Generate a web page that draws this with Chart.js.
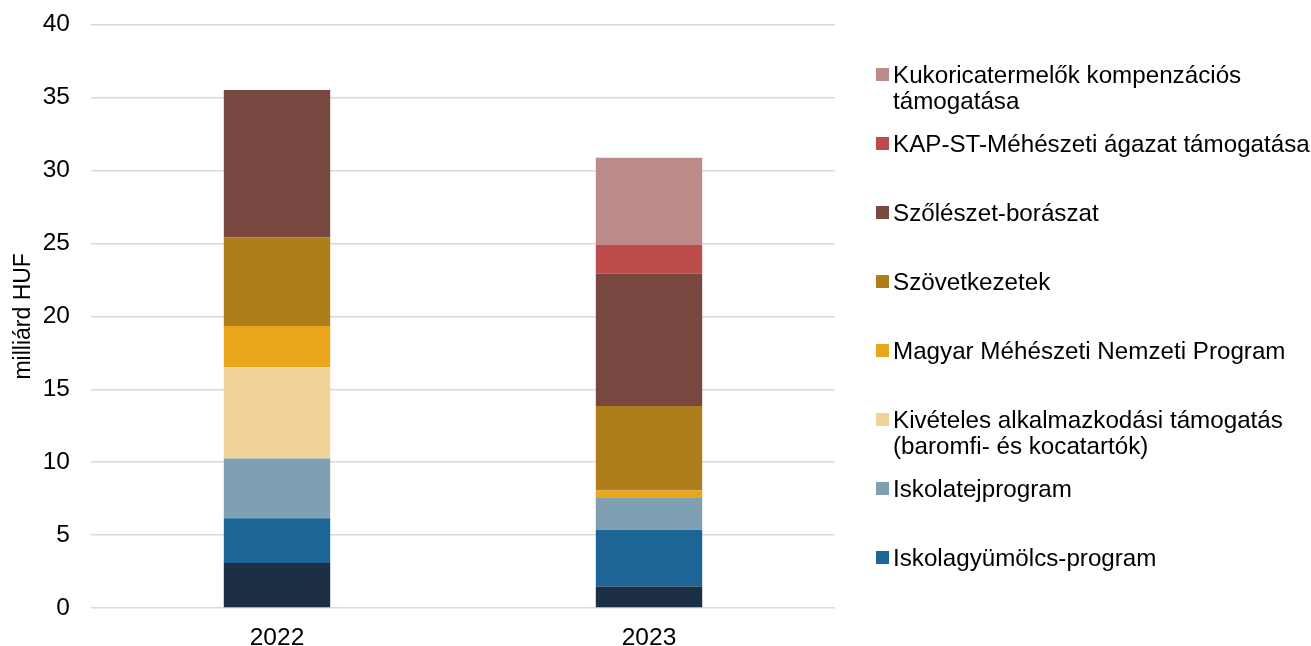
<!DOCTYPE html>
<html>
<head>
<meta charset="utf-8">
<script src="https://cdn.jsdelivr.net/npm/chart.js@4.4.0/dist/chart.umd.min.js"></script>
<style>
  html, body { margin: 0; padding: 0; background: #fff; overflow: hidden; }
  #wrap { position: relative; width: 1311px; height: 646px; overflow: hidden; }
  #chart { position: absolute; left: 0; top: -11px; }
  #legend { position: absolute; left: 876px; top: 62px; font-family: "Liberation Sans", Arial, sans-serif; font-size: 24.2px; color: #000; }
  .item { display: flex; align-items: flex-start; height: 69px; line-height: 26px; }
  .box { width: 13px; height: 13px; margin-top: 6px; margin-right: 4px; flex: none; }
  .txt { white-space: pre-line; }
</style>
</head>
<body>
<div id="wrap">
  <canvas id="chart" width="1311" height="657"></canvas>
  <div id="legend"></div>
</div>
<script>
// categories
const years = ['2022', '2023'];

// series, bottom to top (first one has no legend entry in the source)
const seriesNames = [
  '',
  'Iskolagyümölcs-program',
  'Iskolatejprogram',
  'Kivételes alkalmazkodási támogatás\n(baromfi- és kocatartók)',
  'Magyar Méhészeti Nemzeti Program',
  'Szövetkezetek',
  'Szőlészet-borászat',
  'KAP-ST-Méhészeti ágazat támogatása',
  'Kukoricatermelők kompenzációs\ntámogatása'
];
const seriesColors = ['#1b3045', '#1d6596', '#7f9fb2', '#f2d29b', '#e9a61a', '#ae7e1b', '#784840', '#bc4c4a', '#bc8b89'];

// values in milliárd HUF, per series [2022, 2023]
const unlabeled = [3.09, 1.48];
const iskolagyumolcs = [3.07, 3.88];
const iskolatej = [4.10, 2.23];
const kiveteles = [6.25, 0];
const mehNemzeti = [2.83, 0.46];
const szovetkezetek = [6.09, 5.81];
const szoleszet = [10.09, 9.08];
const kapMeheszet = [0, 1.96];
const kukorica = [0, 5.97];

const seriesValues = [unlabeled, iskolagyumolcs, iskolatej, kiveteles, mehNemzeti, szovetkezetek, szoleszet, kapMeheszet, kukorica];

// y axis ticks
const yMax = 40;
const yStep = 5;

const FONT = '"Liberation Sans", Arial, sans-serif';

const datasets = seriesNames.map((name, i) => ({
  label: name,
  data: seriesValues[i],
  backgroundColor: seriesColors[i],
  borderWidth: 0,
  categoryPercentage: 1.0,
  barPercentage: 0.286
}));

const chart = new Chart(document.getElementById('chart'), {
  type: 'bar',
  data: { labels: years, datasets: datasets },
  options: {
    responsive: false,
    animation: false,
    layout: { padding: { top: 14, right: 476, bottom: 0, left: 0 } },
    plugins: { legend: { display: false }, tooltip: { enabled: false } },
    scales: {
      x: {
        stacked: true,
        grid: { display: false },
        border: { display: false },
        ticks: { color: '#000', font: { family: FONT, size: 24.5 }, padding: 8 },
        afterFit: (scale) => { scale.height = 38; }
      },
      y: {
        stacked: true,
        min: 0,
        max: yMax,
        ticks: { stepSize: yStep, color: '#000', font: { family: FONT, size: 24.5 }, padding: 21 },
        grid: { color: '#d9d9d9', lineWidth: 1.5, drawTicks: false },
        border: { display: false },
        title: { display: true, text: 'milliárd HUF', color: '#000', font: { family: FONT, size: 23 }, padding: { top: 10, bottom: 0 } },
        afterFit: (scale) => { scale.width = 91; }
      }
    }
  }
});

// legend, top entry first, skipping the unlabeled series
const legendEl = document.getElementById('legend');
chart.data.datasets.slice().reverse().forEach((ds) => {
  if (!ds.label) return;
  const item = document.createElement('div');
  item.className = 'item';
  const box = document.createElement('div');
  box.className = 'box';
  box.style.background = ds.backgroundColor;
  const txt = document.createElement('div');
  txt.className = 'txt';
  txt.textContent = ds.label;
  item.appendChild(box);
  item.appendChild(txt);
  legendEl.appendChild(item);
});
</script>
</body>
</html>
